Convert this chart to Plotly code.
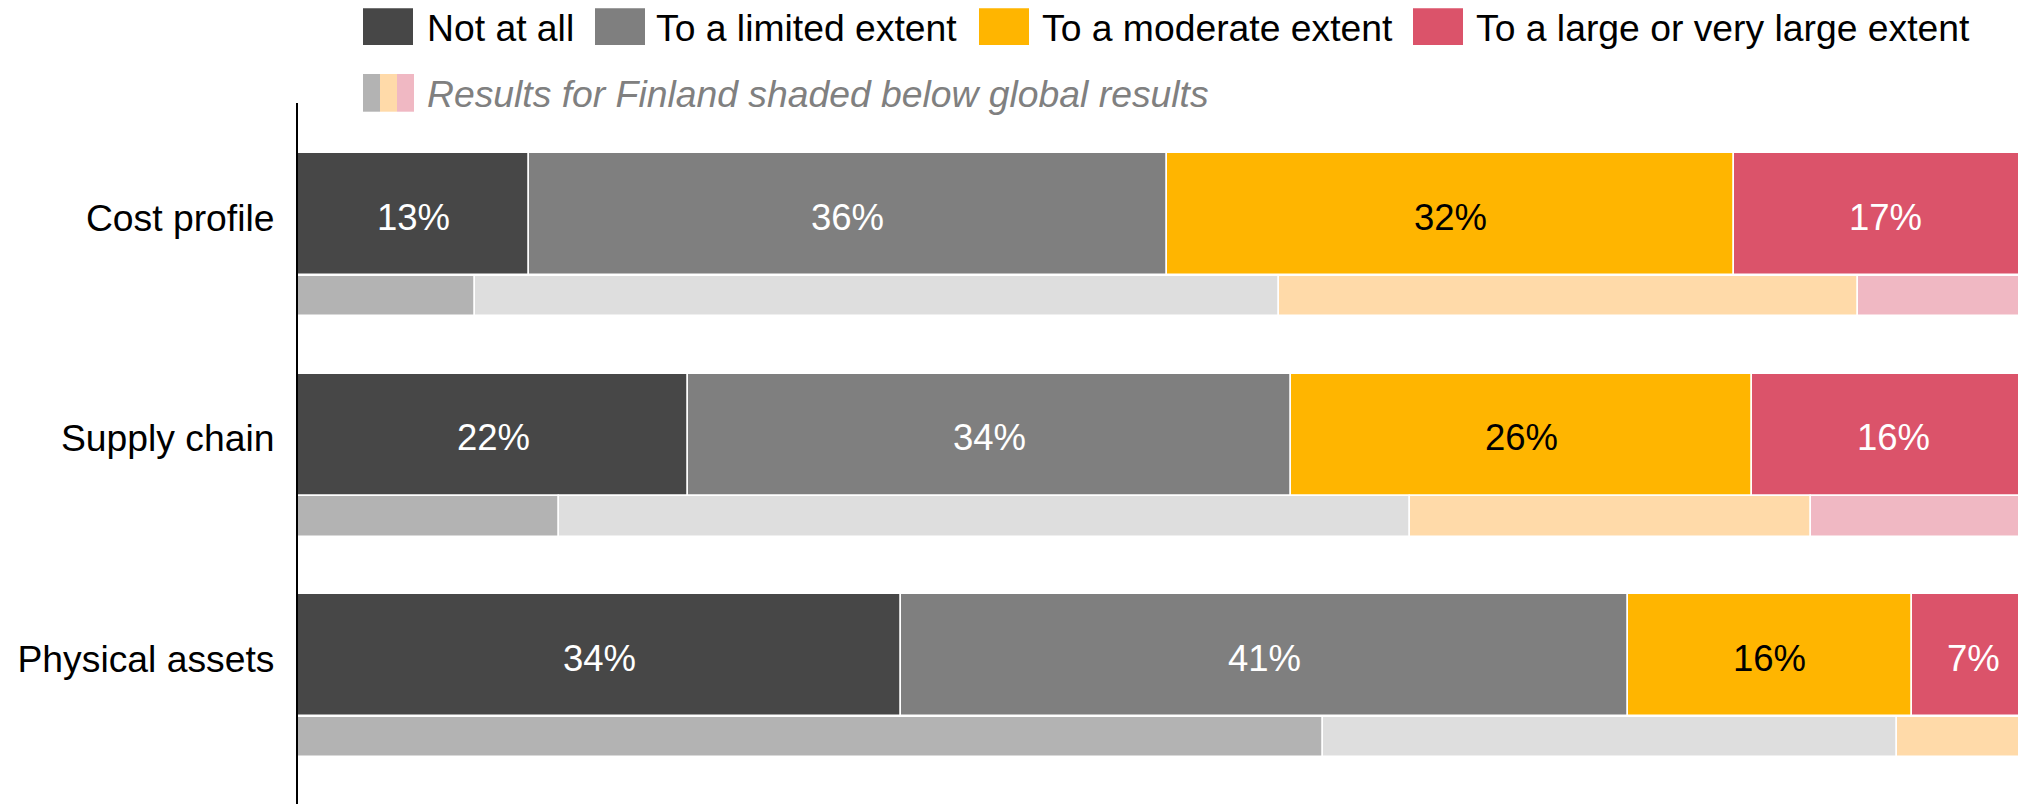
import numpy as np
import plotly.graph_objects as go

# ---- data -------------------------------------------------------------
categories = ["Cost profile", "Supply chain", "Physical assets"]
levels = ["Not at all", "To a limited extent", "To a moderate extent",
          "To a large or very large extent"]

# global results (% of respondents), one list per level, in category order
global_not_at_all = [13, 22, 34]
global_limited = [36, 34, 41]
global_moderate = [32, 26, 16]
global_large = [17, 16, 7]

# results for Finland, same layout
finland_not_at_all = [10.0, 14.7, 57.8]
finland_limited = [45.3, 48.0, 32.4]
finland_moderate = [32.7, 22.6, 7.8]
finland_large = [12.0, 14.7, 2.0]

legend_note = "Results for Finland shaded below global results"

# ---- styling ----------------------------------------------------------
W, H = 2018, 804
M_L, M_R, M_T, M_B = 298, 0, 103, 0
FONT = "Liberation Sans, Arial, sans-serif"
FS = 37.3          # legend and category labels
FS_VAL = 36.5      # value labels inside the bars

main_colors = ["#474747", "#7f7f7f", "#ffb500", "#db536a"]
shade_colors = ["#b3b3b3", "#dedede", "#ffdaa9", "#f0b8c3"]
label_colors = ["#ffffff", "#ffffff", "#000000", "#ffffff"]

GLOBAL_W = 0.554      # bar thickness (category units)
FIN_W = 0.185
FIN_OFFSET = 0.3705   # Finland bar sits just under the global bar
TEXT_NUDGE = 0.014    # optical centring of text against the bars

global_sets = [global_not_at_all, global_limited, global_moderate, global_large]
finland_sets = [finland_not_at_all, finland_limited, finland_moderate, finland_large]

y_pos = np.arange(len(categories), dtype=float)

fig = go.Figure()
annotations = []

# global bars, stacked left to right via explicit bases, with value labels
base = np.zeros(len(categories))
for name, vals, col, tcol in zip(levels, global_sets, main_colors, label_colors):
    vals = np.asarray(vals, dtype=float)
    fig.add_trace(go.Bar(
        y=y_pos, x=vals, base=base.copy(), orientation="h", width=GLOBAL_W,
        name=name, marker=dict(color=col, line=dict(color="#ffffff", width=1.5)),
        hoverinfo="skip", showlegend=False,
    ))
    for yi, b, v in zip(y_pos, base, vals):
        annotations.append(dict(
            text=f"{v:g}%", x=b + v / 2, y=yi + TEXT_NUDGE, xref="x", yref="y",
            xanchor="center", yanchor="middle", showarrow=False,
            font=dict(family=FONT, size=FS_VAL, color=tcol)))
    base += vals

# Finland bars underneath
base = np.zeros(len(categories))
for name, vals, col in zip(levels, finland_sets, shade_colors):
    vals = np.asarray(vals, dtype=float)
    fig.add_trace(go.Bar(
        y=y_pos + FIN_OFFSET, x=vals, base=base.copy(), orientation="h",
        width=FIN_W, name=name + " (Finland)",
        marker=dict(color=col, line=dict(color="#ffffff", width=1.5)),
        hoverinfo="skip", showlegend=False,
    ))
    base += vals

# ---- legend drawn in pixel space ---------------------------------------
PW = W - M_L - M_R
PH = H - M_T - M_B


def px_x(px):
    return (px - M_L) / PW


def px_y(py):
    return 1 - (py - M_T) / PH


shapes = []

row1_top, row1_bot = 8.3, 45.0
row1_items = [(363, 427), (595, 656), (979, 1042), (1413, 1476)]
for (mx, tx), name, col in zip(row1_items, levels, main_colors):
    shapes.append(dict(type="rect", xref="paper", yref="paper",
                       x0=px_x(mx), x1=px_x(mx + 50), y0=px_y(row1_bot), y1=px_y(row1_top),
                       fillcolor=col, line=dict(width=0), layer="above"))
    annotations.append(dict(text=name, xref="paper", yref="paper",
                            x=px_x(tx - 2), y=px_y((row1_top + row1_bot) / 2 + 1.5),
                            xanchor="left", yanchor="middle", showarrow=False,
                            font=dict(family=FONT, size=FS, color="#000000")))

row2_top, row2_bot = 74.0, 111.7
stripe_x = [363, 380, 397]
for sx, col in zip(stripe_x, shade_colors[0:1] + shade_colors[2:]):
    shapes.append(dict(type="rect", xref="paper", yref="paper",
                       x0=px_x(sx), x1=px_x(sx + 17), y0=px_y(row2_bot), y1=px_y(row2_top),
                       fillcolor=col, line=dict(width=0), layer="above"))
annotations.append(dict(text=f"<i>{legend_note}</i>", xref="paper", yref="paper",
                        x=px_x(425), y=px_y((row2_top + row2_bot) / 2 + 1.5),
                        xanchor="left", yanchor="middle", showarrow=False,
                        font=dict(family=FONT, size=FS, color="#808080")))

fig.update_layout(
    width=W, height=H,
    margin=dict(l=M_L, r=M_R, t=M_T, b=M_B, autoexpand=False),
    paper_bgcolor="#ffffff", plot_bgcolor="#ffffff",
    barmode="overlay", bargap=0,
    showlegend=False,
    shapes=shapes, annotations=annotations,
    font=dict(family=FONT, size=FS, color="#000000"),
)
fig.update_xaxes(range=[0, 97.0], visible=False, fixedrange=True)
fig.update_yaxes(
    range=[2.674, -0.505], tickmode="array", tickvals=y_pos + TEXT_NUDGE,
    ticktext=categories, ticks="", showgrid=False, zeroline=False, showline=True,
    linecolor="#000000", linewidth=2, ticklabelstandoff=14,
    tickfont=dict(family=FONT, size=FS, color="#000000"), fixedrange=True,
)

fig.write_html("out.html")
